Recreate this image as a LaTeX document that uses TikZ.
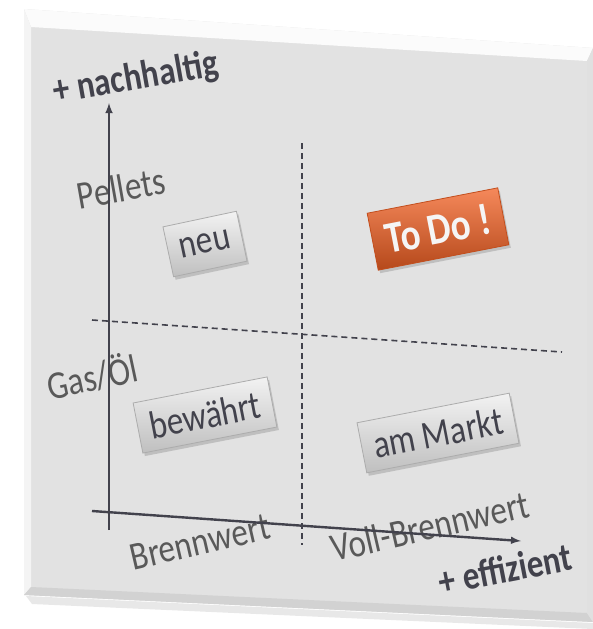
\documentclass[tikz,border=0pt]{standalone}
\usepackage{fontspec}
\setmainfont{Carlito}
\usepackage{tikz}
\usetikzlibrary{calc,arrows,positioning,shadows}

\definecolor{panel}{RGB}{226,226,226}
\definecolor{ink}{RGB}{66,66,76}
\definecolor{txt}{RGB}{89,89,89}
\definecolor{todo}{RGB}{242,97,36}
\newcommand\tallt[1]{\scalebox{1}[1.2]{#1}}

\begin{document}
\begin{tikzpicture}[x=1pt, y=-1pt,
		lab/.style={text=txt, font=\fontsize{33}{36}\selectfont, inner sep=0pt},
		blab/.style={text=ink, font=\fontsize{33}{36}\selectfont\bfseries, inner sep=0pt},
		btn/.style={draw=gray!65, line width=.8pt, top color=white!90!gray, middle color=gray!18, bottom color=gray!50,
			text=ink, font=\fontsize{33}{36}\selectfont, minimum height=51pt, inner xsep=12pt,
			drop shadow={opacity=.35, shadow xshift=2pt, shadow yshift=-3pt}},
		axis/.style={ink, line width=2.4pt, -latex},
		sep/.style={ink, line width=1.6pt, dash pattern=on 6pt off 4pt}]
	\useasboundingbox (0,0) rectangle (593,629);
	% panel with bevel
	\coordinate (o1) at (24,9); \coordinate (o2) at (593,48);
	\coordinate (o3) at (593,622); \coordinate (o4) at (24,595);
	\coordinate (i1) at (31,27); \coordinate (i2) at (587,61);
	\coordinate (i3) at (587,613); \coordinate (i4) at (31,587);
	\fill[gray!30, opacity=.6] (26,596) -- (593,623) -- (593,629) -- (32,604) -- cycle;
	\fill[panel] (o1) -- (o2) -- (o3) -- (o4) -- cycle;
	\fill[white!97!gray] (o1) -- (o2) -- (i2) -- (i1) -- cycle;
	\fill[gray!9] (o1) -- (i1) -- (i4) -- (o4) -- cycle;
	\fill[gray!35] (o4) -- (i4) -- (i3) -- (o3) -- cycle;
	\fill[gray!24] (o2) -- (o3) -- (i3) -- (i2) -- cycle;
	% labels
	\node[blab, rotate=10] (nach) at (136,79) {\tallt{+ nachhaltig}};
	\node[lab, rotate=10] (pel) at (121,188) {\tallt{Pellets}};
	\node[lab, rotate=12] (gas) at (92,376) {\tallt{Gas/Öl}};
	\node[lab, rotate=13] (bw) at (200,542) {\tallt{Brennwert}};
	\node[lab, rotate=13] (vbw) at (430,526) {\tallt{Voll-Brennwert}};
	\node[blab, rotate=11] (eff) at (505,569) {\tallt{+ effizient}};
	% axes and separators
	\coordinate (vt) at (302,143); \coordinate (vb) at (302,545);
	\coordinate (hl) at (92,320); \coordinate (hr) at (562,352);
	\coordinate (yb) at (109,530); \coordinate (yt) at (109,103);
	\coordinate (xl) at (92,511); \coordinate (xr) at (521,541);
	\draw[sep] (vt) -- (vb);
	\draw[sep] (hl) -- (hr);
	\draw[axis] (yb) -- (yt);
	\draw[axis] (xl) -- (xr);
	% quadrants
	\node[btn, rotate=12] (neu) at (205,244) {\tallt{neu}};
	\node[btn, rotate=11, draw=todo!80!black, top color=todo!75!white, middle color=todo, bottom color=todo!75!black,
		text=white!92!gray, font=\fontsize{37}{40}\selectfont\bfseries, minimum height=58pt, inner xsep=13pt] (todo) at (438,229) {\tallt{To Do !}};
	\node[btn, rotate=11] (bew) at (205,415) {\tallt{bewährt}};
	\node[btn, rotate=11] (markt) at (438,433) {\tallt{am Markt}};
\end{tikzpicture}
\end{document}
